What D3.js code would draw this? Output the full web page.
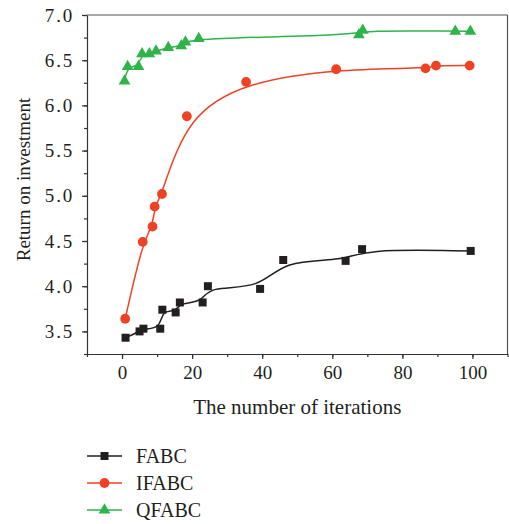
<!DOCTYPE html>
<html>
<head>
<meta charset="utf-8">
<style>
  body { margin: 0; background: #fff; }
  svg text { font-family: "Liberation Serif", "Times New Roman", serif; fill: #231f20; }
  .axis path, .axis line { stroke: #333; }
</style>
</head>
<body>
<svg id="chart" width="509" height="524"></svg>
<script src="https://cdn.jsdelivr.net/npm/d3@7"></script>
<script>
// values
var fabcX = [1, 5, 6.1, 10.9, 11.5, 15.3, 16.5, 23, 24.5, 39.4, 46, 63.8, 68.5, 99.5];
var fabcY = [3.43, 3.50, 3.53, 3.53, 3.74, 3.71, 3.82, 3.82, 4.00, 3.97, 4.29, 4.28, 4.41, 4.39];

var ifabcX = [0.9, 5.9, 8.7, 9.3, 11.4, 18.5, 35.4, 61.1, 86.6, 89.6, 99.2];
var ifabcY = [3.64, 4.49, 4.66, 4.88, 5.02, 5.88, 6.26, 6.40, 6.41, 6.44, 6.44];

var qfabcX = [0.7, 1.6, 4.7, 5.7, 7.8, 9.7, 13.2, 16.9, 18.1, 21.9, 67.6, 68.7, 95.1, 99.4];
var qfabcY = [6.27, 6.43, 6.43, 6.57, 6.57, 6.60, 6.64, 6.66, 6.70, 6.74, 6.78, 6.83, 6.82, 6.82];

var seriesNames = ["FABC", "IFABC", "QFABC"];
var xTicks = [0, 20, 40, 60, 80, 100];
var yTicks = [3.5, 4.0, 4.5, 5.0, 5.5, 6.0, 6.5, 7.0];

var series = [
  {name: seriesNames[0], xs: fabcX, ys: fabcY, color: "#231f20", shape: d3.symbolSquare, size: 64},
  {name: seriesNames[1], xs: ifabcX, ys: ifabcY, color: "#ef4123", shape: d3.symbolCircle, size: 75},
  {name: seriesNames[2], xs: qfabcX, ys: qfabcY, color: "#2fb34b", shape: d3.symbolTriangle, size: 60}
];

var svg = d3.select("#chart");
var plotL = 87, plotR = 507.5, plotT = 15, plotB = 354;

var x = d3.scaleLinear().domain([-10, 110]).range([plotL, plotR]);
var y = d3.scaleLinear().domain([3.25, 7.0]).range([plotB, plotT]);

// frame lines on top and right
svg.append("line").attr("x1", plotL).attr("x2", plotR).attr("y1", plotT).attr("y2", plotT)
  .attr("stroke", "#555").attr("stroke-width", 1.2);
svg.append("line").attr("x1", plotR).attr("x2", plotR).attr("y1", plotT).attr("y2", plotB)
  .attr("stroke", "#555").attr("stroke-width", 1.2);

// minor ticks
var gx = svg.append("g").attr("class", "axis").attr("transform", "translate(0," + plotB + ")");
gx.call(d3.axisBottom(x).tickValues(d3.range(-10, 111, 10)).tickSize(3).tickFormat(""));
gx.select(".domain").remove();
var gxm = svg.append("g").attr("class", "axis").attr("transform", "translate(0," + plotB + ")");
gxm.call(d3.axisBottom(x).tickValues(xTicks).tickSize(5).tickPadding(7).tickSizeOuter(0));
gxm.selectAll("text").attr("font-size", 19).attr("fill", "#231f20");
gxm.select(".domain").attr("stroke-width", 1.2);

var gy = svg.append("g").attr("class", "axis").attr("transform", "translate(" + plotL + ",0)");
gy.call(d3.axisLeft(y).tickValues(d3.range(3.25, 7.01, 0.25)).tickSize(3).tickFormat(""));
gy.select(".domain").remove();
var gym = svg.append("g").attr("class", "axis").attr("transform", "translate(" + plotL + ",0)");
gym.call(d3.axisLeft(y).tickValues(yTicks).tickSize(5).tickPadding(8).tickSizeOuter(0).tickFormat(d3.format(".1f")));
gym.selectAll("text").attr("font-size", 19).attr("letter-spacing", 1.8).attr("fill", "#231f20");
gym.select(".domain").attr("stroke-width", 1.2);

svg.selectAll(".axis line").attr("stroke", "#333").attr("stroke-width", 1.2);

// axis titles
svg.append("text")
  .attr("x", (plotL + plotR) / 2).attr("y", 414)
  .attr("text-anchor", "middle").attr("font-size", 21)
  .text("The number of iterations");
svg.append("text")
  .attr("transform", "translate(30," + ((plotT + plotB) / 2 - 5) + ") rotate(-90)")
  .attr("text-anchor", "middle").attr("font-size", 19)
  .text("Return on investment");

// B-spline lines and markers
var line = d3.line().curve(d3.curveBasis)
  .x(function(d) { return x(d[0]); })
  .y(function(d) { return y(d[1]); });

series.forEach(function(s) {
  var pts = s.xs.map(function(v, i) { return [v, s.ys[i]]; });
  svg.append("path")
    .datum(pts)
    .attr("d", line)
    .attr("fill", "none")
    .attr("stroke", s.color)
    .attr("stroke-width", 1.5);
  svg.append("g").selectAll("path")
    .data(pts)
    .enter().append("path")
      .attr("transform", function(d) { return "translate(" + x(d[0]) + "," + y(d[1]) + ")"; })
      .attr("d", d3.symbol().type(s.shape).size(s.size))
      .attr("fill", s.color);
});

// legend
var legend = svg.append("g").selectAll("g")
  .data(series)
  .enter().append("g")
    .attr("transform", function(d, i) { return "translate(0," + (456 + i * 27) + ")"; });
legend.append("line")
  .attr("x1", 87).attr("x2", 122)
  .attr("stroke", function(d) { return d.color; })
  .attr("stroke-width", 1.5);
legend.append("path")
  .attr("transform", "translate(104.5,0)")
  .attr("d", function(d) { return d3.symbol().type(d.shape).size(d.size)(); })
  .attr("fill", function(d) { return d.color; });
legend.append("text")
  .attr("x", 136).attr("y", 7)
  .attr("font-size", 20)
  .text(function(d) { return d.name; });
</script>
</body>
</html>
